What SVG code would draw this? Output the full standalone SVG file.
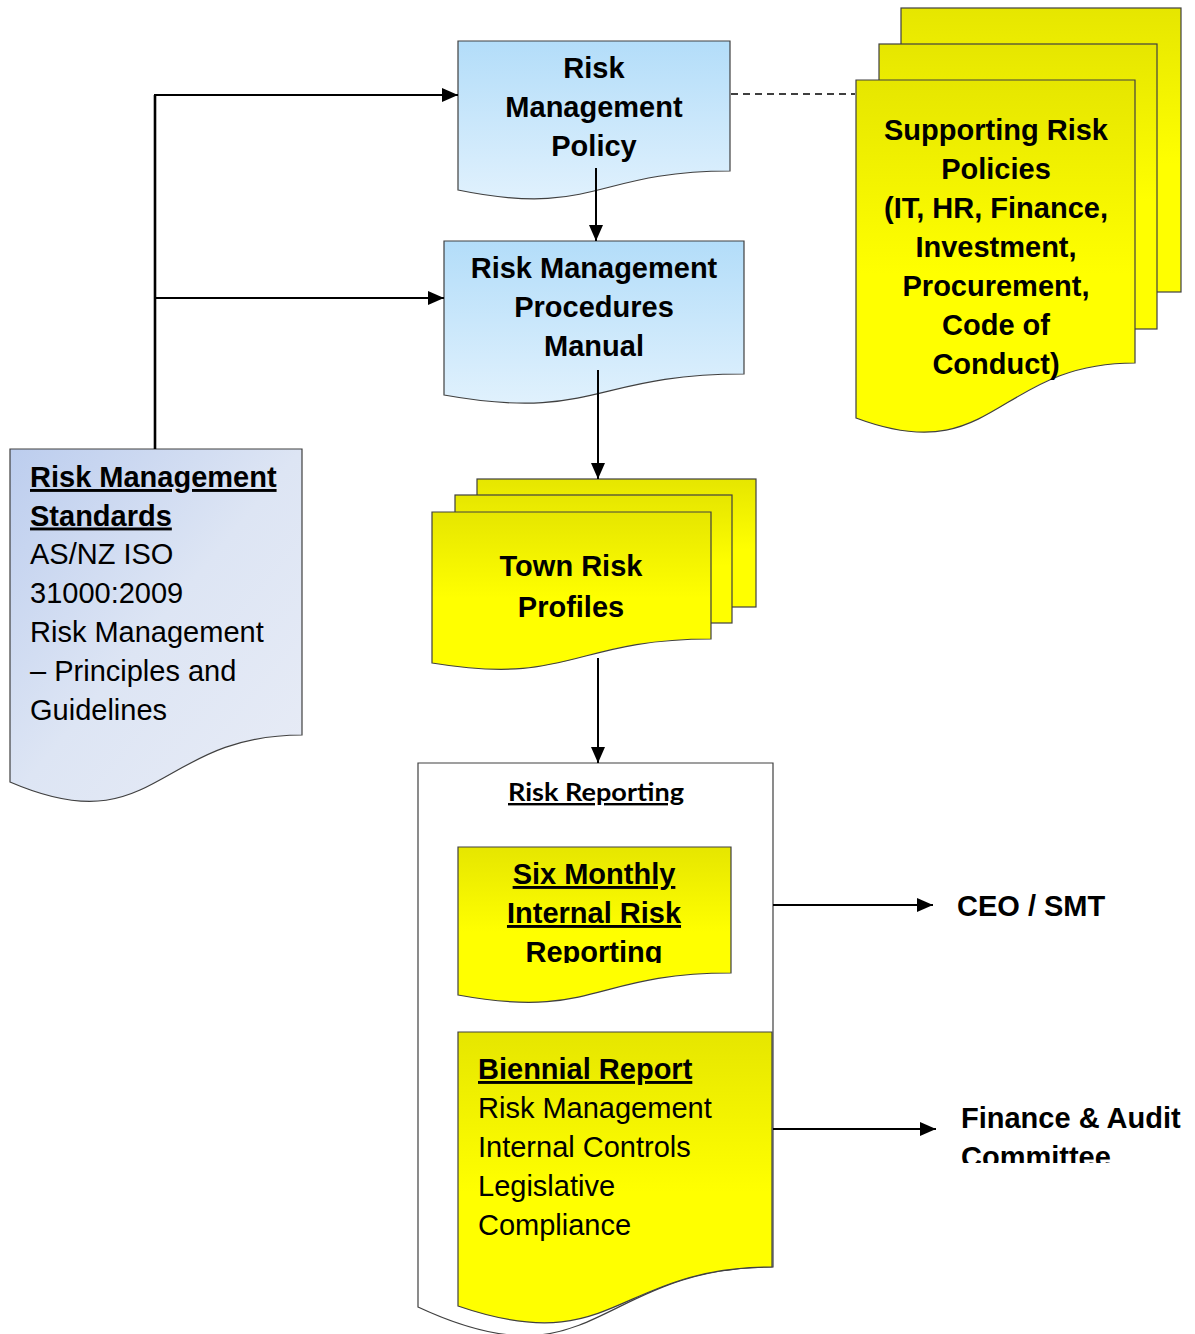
<svg xmlns="http://www.w3.org/2000/svg" width="1195" height="1334" viewBox="0 0 1195 1334">
<style>
  .shape{stroke:#404040;stroke-width:1.2}
  .b{font-family:"Liberation Sans",Arial,sans-serif;font-weight:bold;font-size:29px;fill:#000}
  .r{font-family:"Liberation Sans",Arial,sans-serif;font-size:29px;fill:#000}
  .u{text-decoration:underline}
  .c{text-anchor:middle}
  .con{stroke:#000;stroke-width:2;fill:none}
</style>
<defs>
  <linearGradient id="yel" x1="0" y1="0" x2="0" y2="1">
    <stop offset="0" stop-color="#e6e600"/>
    <stop offset="0.55" stop-color="#ffff00"/>
    <stop offset="1" stop-color="#ffff00"/>
  </linearGradient>
  <linearGradient id="blu" x1="0" y1="0" x2="0" y2="1">
    <stop offset="0" stop-color="#b3ddf9"/>
    <stop offset="1" stop-color="#e0f1fd"/>
  </linearGradient>
  <linearGradient id="std" x1="0" y1="0" x2="1" y2="1">
    <stop offset="0" stop-color="#bccdee"/>
    <stop offset="0.5" stop-color="#dde5f4"/>
    <stop offset="1" stop-color="#e8ecf6"/>
  </linearGradient>
  <marker id="arr" markerUnits="userSpaceOnUse" markerWidth="16" markerHeight="14" refX="16" refY="7" orient="auto">
    <path d="M0,0 L16,7 L0,14 Z" fill="#000"/>
  </marker>
  <clipPath id="clipSix"><rect x="440" y="840" width="320" height="123"/></clipPath>
  <clipPath id="clipFA"><rect x="940" y="1090" width="255" height="73"/></clipPath>
</defs>
<rect width="1195" height="1334" fill="#fff"/>

<g id="supporting-policies">
  <rect class="shape" x="901" y="8" width="280" height="284" fill="url(#yel)"/>
  <rect class="shape" x="879" y="44" width="278" height="285" fill="url(#yel)"/>
  <path class="shape" d="M856,80 H1135 V363 C995,363 995,470 856,418 Z" fill="url(#yel)"/>
  <text class="b c" x="996" y="140">Supporting Risk</text>
  <text class="b c" x="996" y="179">Policies</text>
  <text class="b c" x="996" y="218">(IT, HR, Finance,</text>
  <text class="b c" x="996" y="257">Investment,</text>
  <text class="b c" x="996" y="296">Procurement,</text>
  <text class="b c" x="996" y="335">Code of</text>
  <text class="b c" x="996" y="374">Conduct)</text>
</g>

<g id="policy">
  <path class="shape" d="M458,41 H730 V171 C594,171 594,218 458,190 Z" fill="url(#blu)"/>
  <text class="b c" x="594" y="78">Risk</text>
  <text class="b c" x="594" y="117">Management</text>
  <text class="b c" x="594" y="156">Policy</text>
</g>

<g id="procedures">
  <path class="shape" d="M444,241 H744 V374 C594,374 594,422 444,395 Z" fill="url(#blu)"/>
  <text class="b c" x="594" y="278">Risk Management</text>
  <text class="b c" x="594" y="317">Procedures</text>
  <text class="b c" x="594" y="356">Manual</text>
</g>

<g id="standards">
  <path class="shape" d="M10,449 H302 V735 C156,735 156,845 10,782 Z" fill="url(#std)"/>
  <text class="b u" x="30" y="487">Risk Management</text>
  <text class="b u" x="30" y="525.5">Standards</text>
  <text class="r" x="30" y="564">AS/NZ ISO</text>
  <text class="r" x="30" y="603">31000:2009</text>
  <text class="r" x="30" y="642">Risk Management</text>
  <text class="r" x="30" y="681">– Principles and</text>
  <text class="r" x="30" y="720">Guidelines</text>
</g>

<g id="town-risk-profiles">
  <rect class="shape" x="477" y="479" width="279" height="128" fill="url(#yel)"/>
  <rect class="shape" x="455" y="495" width="277" height="128" fill="url(#yel)"/>
  <path class="shape" d="M432,512 H711 V639 C572,639 572,686 432,663 Z" fill="url(#yel)"/>
  <text class="b c" x="571" y="576">Town Risk</text>
  <text class="b c" x="571" y="617">Profiles</text>
</g>

<g id="risk-reporting">
  <path class="shape" d="M418,763 H773 V1267 C596,1267 596,1390 418,1307 Z" fill="#fff"/>
  <text x="596" y="801" text-anchor="middle" textLength="176" lengthAdjust="spacingAndGlyphs" style="font-family:Lato,'Open Sans',sans-serif;font-weight:bold;font-size:24px;text-decoration:underline" fill="#000">Risk Reporting</text>
</g>

<g id="six-monthly">
  <path class="shape" d="M458,847 H731 V973 C594,973 594,1020 458,995 Z" fill="url(#yel)"/>
  <g clip-path="url(#clipSix)">
    <text class="b c u" x="594" y="884">Six Monthly</text>
    <text class="b c u" x="594" y="923">Internal Risk</text>
    <text class="b c" x="594" y="962">Reporting</text>
  </g>
</g>

<g id="biennial">
  <path class="shape" d="M458,1032 H772 V1267 C615,1267 615,1360 458,1306 Z" fill="url(#yel)"/>
  <text class="b u" x="478" y="1079">Biennial Report</text>
  <text class="r" x="478" y="1118">Risk Management</text>
  <text class="r" x="478" y="1157">Internal Controls</text>
  <text class="r" x="478" y="1196">Legislative</text>
  <text class="r" x="478" y="1235">Compliance</text>
</g>

<g id="ceo-smt">
  <text class="b" x="957" y="916">CEO / SMT</text>
</g>

<g id="finance-audit">
  <g clip-path="url(#clipFA)">
    <text class="b" x="961" y="1128">Finance &amp; Audit</text>
    <text class="b" x="961" y="1167">Committee</text>
  </g>
</g>

<g id="connectors">
  <line class="con" x1="155" y1="449" x2="155" y2="95" style="stroke-width:2.6"/>
  <line class="con" x1="154" y1="95" x2="458" y2="95" marker-end="url(#arr)"/>
  <line class="con" x1="154" y1="298" x2="444" y2="298" marker-end="url(#arr)"/>
  <line class="con" x1="596" y1="168" x2="596" y2="241" marker-end="url(#arr)"/>
  <line class="con" x1="598" y1="370" x2="598" y2="479" marker-end="url(#arr)"/>
  <line class="con" x1="598" y1="658" x2="598" y2="763" marker-end="url(#arr)"/>
  <line class="con" x1="731" y1="94" x2="855" y2="94" style="stroke-width:1.5;stroke-dasharray:7 5"/>
  <line class="con" x1="773" y1="905" x2="933" y2="905" marker-end="url(#arr)"/>
  <line class="con" x1="773" y1="1129" x2="936" y2="1129" marker-end="url(#arr)"/>
</g>
</svg>
